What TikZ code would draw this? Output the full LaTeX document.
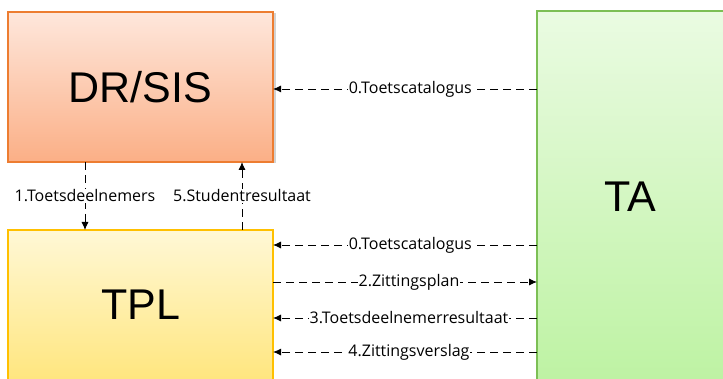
\documentclass[tikz,border=0pt]{standalone}
\usepackage{fontspec}
\setmainfont{Liberation Sans}
\newfontfamily\lblfont{Open Sans}
\usetikzlibrary{arrows.meta,shadows}
\definecolor{orbord}{HTML}{ED7D31}
\definecolor{ortop}{HTML}{FEE7DC}
\definecolor{orbot}{HTML}{FBAF86}
\definecolor{yebord}{HTML}{FFC000}
\definecolor{yetop}{HTML}{FFF8D6}
\definecolor{yebot}{HTML}{FFE57A}
\definecolor{grbord}{HTML}{7CBF55}
\definecolor{grtop}{HTML}{EAFBE2}
\definecolor{grbot}{HTML}{BDF2A2}
\tikzset{
  flow/.style={dash pattern=on 8pt off 5pt, line width=0.9pt, -{Latex[length=8pt,width=7pt]}},
  lbl/.style={fill=white, font=\lblfont\fontsize{16}{17}\selectfont, inner sep=1pt},
  bigtxt/.style={font=\fontsize{43}{43}\selectfont}
}
\begin{document}
\begin{tikzpicture}[x=1pt,y=1pt]
\useasboundingbox (0,0) rectangle (723,378);
\clip (0,0) rectangle (723,378);
% boxes
\fill[gray!35] (9.5,214.5) rectangle (275.5,364.5);
\shade[top color=ortop, bottom color=orbot, draw=orbord, line width=1.2pt] (8,216) rectangle (273,366);
\node[bigtxt] (drsis) at (140.5,291) {DR/SIS};
\shade[top color=yetop, bottom color=yebot, draw=yebord, line width=1.2pt] (8,-10) rectangle (273,148);
\node[bigtxt] (tpl) at (140.5,73) {TPL};
\shade[top color=grtop, bottom color=grbot, draw=grbord, line width=1.2pt] (537,-10) rectangle (740,367);
\node[bigtxt] (ta) at (630,181) {TA};
% coordinates
\coordinate (a0s) at (537,289); \coordinate (a0e) at (273,289);
\coordinate (v1s) at (85,216);  \coordinate (v1e) at (85,148);
\coordinate (v5s) at (242,148); \coordinate (v5e) at (242,216);
\coordinate (b0s) at (537,133); \coordinate (b0e) at (273,133);
\coordinate (b2s) at (273,96);  \coordinate (b2e) at (537,96);
\coordinate (b3s) at (537,60);  \coordinate (b3e) at (273,60);
\coordinate (b4s) at (537,26);  \coordinate (b4e) at (273,26);
% connectors
\draw[flow] (a0s) -- (a0e) node[lbl, pos=0.48] {0.Toetscatalogus};
\draw[flow] (v1s) -- (v1e) node[lbl, pos=0.5] {1.Toetsdeelnemers};
\draw[flow] (v5s) -- (v5e) node[lbl, pos=0.5] {5.Studentresultaat};
\draw[flow] (b0s) -- (b0e) node[lbl, pos=0.48] {0.Toetscatalogus};
\draw[flow] (b2s) -- (b2e) node[lbl, pos=0.515] {2.Zittingsplan};
\draw[flow] (b3s) -- (b3e) node[lbl, pos=0.485] {3.Toetsdeelnemerresultaat};
\draw[flow] (b4s) -- (b4e) node[lbl, pos=0.485] {4.Zittingsverslag};
\end{tikzpicture}
\end{document}
